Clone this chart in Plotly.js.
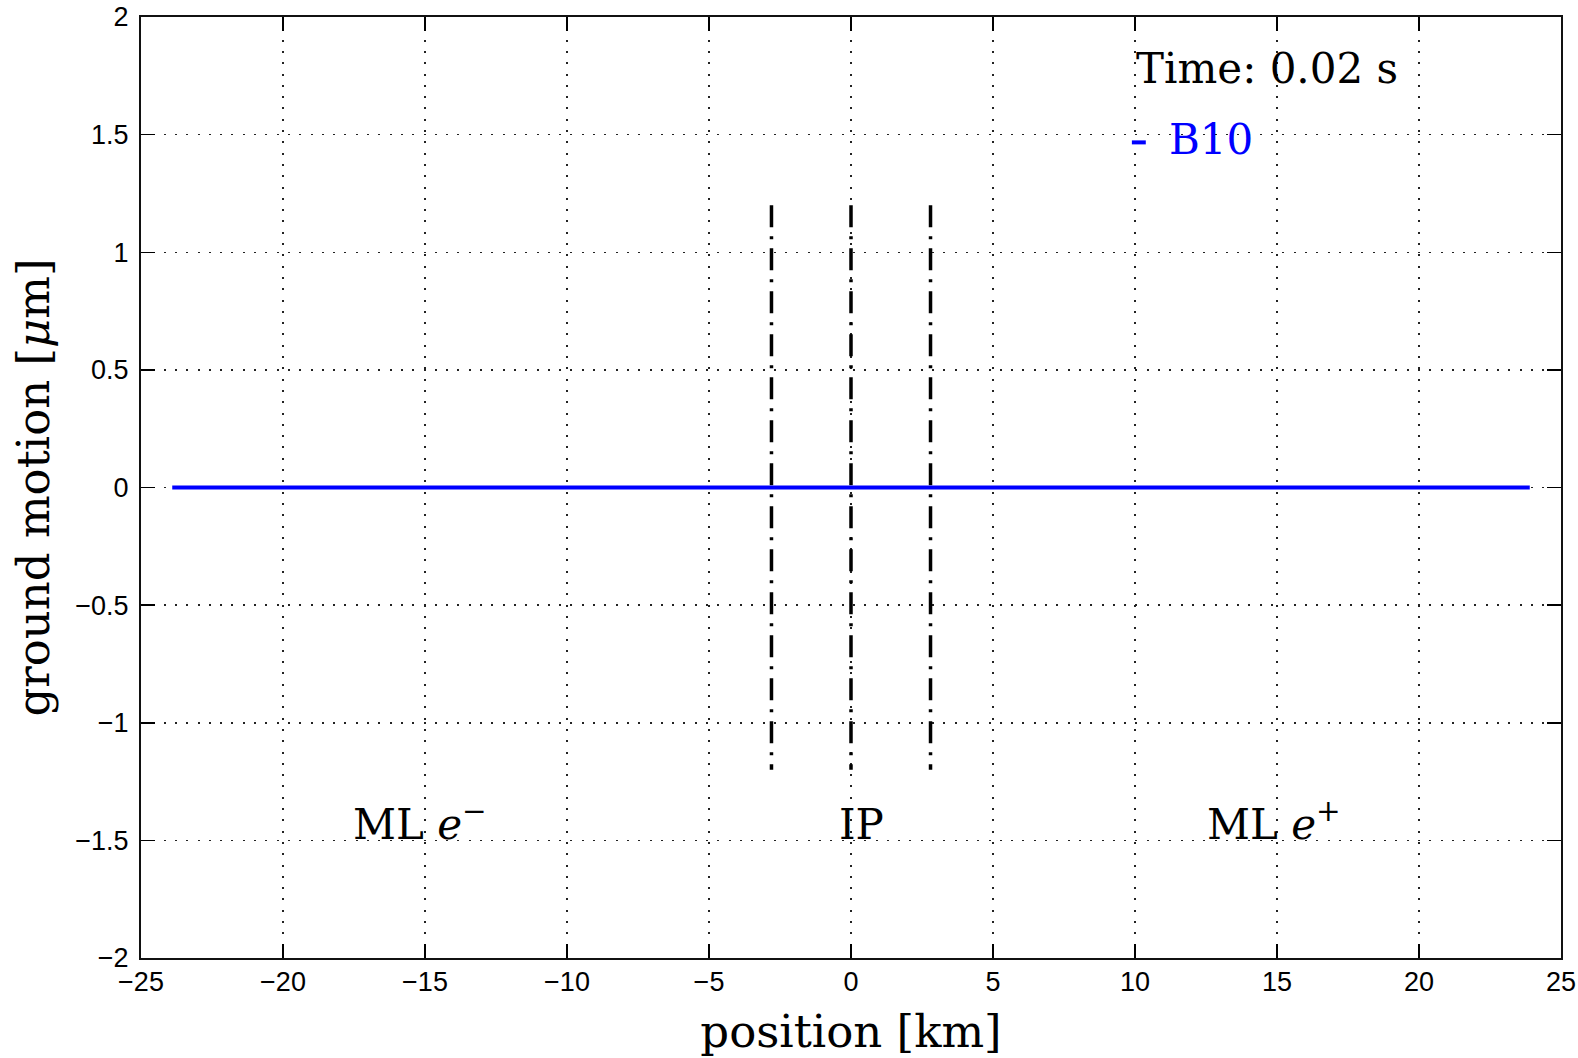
<!DOCTYPE html>
<html>
<head>
<meta charset="utf-8">
<script src="https://cdn.plot.ly/plotly-3.0.1.min.js"></script>
<style>html,body{margin:0;padding:0;background:#fff;}#chart{width:1578px;height:1058px;}</style>
</head>
<body>
<div id="chart"></div>
<script>
// ---- data ----
var positionKm = [-23.9, 23.9];          // B10 ground motion trace x (km)
var groundMotion = [0, 0];               // B10 ground motion (µm) at t = 0.02 s
var seriesName = "B10";
var markerX = [-2.8, 0, 2.8];            // vertical dash-dot markers (km)
var markerY = [-1.2, 1.2];               // extent of markers (µm)
var xTicks = [-25, -20, -15, -10, -5, 0, 5, 10, 15, 20, 25];
var yTicks = [-2, -1.5, -1, -0.5, 0, 0.5, 1, 1.5, 2];
var regionLabels = ["ML <i>e</i><sup>\u2212</sup>", "IP", "ML <i>e</i><sup>+</sup>"];
var regionLabelX = [-17.6, -0.5, 12.45];
var regionLabelY = -1.545;
var timeText = "Time: 0.02 s";

var serif = "DejaVu Serif, Liberation Serif, serif";
var tickFont = {family: "Liberation Sans Narrow, Liberation Sans, Arial, sans-serif", size: 27, color: "#000"};

var traces = [];
markerX.forEach(function (mx) {
  traces.push({
    x: [mx, mx], y: [markerY[1], markerY[0]],
    mode: "lines", type: "scatter", showlegend: false, hoverinfo: "skip",
    line: {color: "#000", width: 3.5, dash: "22px,9px,3px,9px"}
  });
});
traces.push({
  x: positionKm, y: groundMotion, name: seriesName,
  mode: "lines", type: "scatter", showlegend: false,
  line: {color: "#0000ff", width: 4}
});

var annotations = regionLabels.map(function (t, i) {
  return {text: t, x: regionLabelX[i], y: regionLabelY, xref: "x", yref: "y",
          xanchor: "left", yanchor: "bottom", showarrow: false,
          font: {family: serif, size: 42, color: "#000"}};
});
annotations.push({text: timeText, x: 9.95, y: 1.668, xref: "x", yref: "y",
  xanchor: "left", yanchor: "bottom", showarrow: false,
  font: {family: serif, size: 42, color: "#000"}});
annotations.push({text: seriesName, x: 11.12, y: 1.367, xref: "x", yref: "y",
  xanchor: "left", yanchor: "bottom", showarrow: false,
  font: {family: serif, size: 42, color: "#0000ff"}});

var layout = {
  width: 1578, height: 1058,
  margin: {l: 141, r: 17, t: 17, b: 100, pad: 0},
  paper_bgcolor: "#fff", plot_bgcolor: "#fff",
  showlegend: false,
  xaxis: {
    range: [-25, 25], tickvals: xTicks, ticktext: xTicks.map(function(v){return String(v).replace("-", "\u2212");}),
    ticks: "inside", ticklen: 14, tickwidth: 1.5, tickcolor: "#000",
    showline: true, linecolor: "#111", linewidth: 2, mirror: "ticks",
    showgrid: true, gridcolor: "#222", gridwidth: 1.5, griddash: "2px,9.3px",
    zeroline: false, tickfont: tickFont, ticklabelstandoff: -1,
    title: {text: "position [km]", font: {family: serif, size: 45, color: "#000"}, standoff: 19},
    automargin: false, fixedrange: true
  },
  yaxis: {
    range: [-2, 2], tickvals: yTicks, ticktext: yTicks.map(function(v){return String(v).replace("-", "\u2212");}),
    ticks: "inside", ticklen: 14, tickwidth: 1.5, tickcolor: "#000",
    showline: true, linecolor: "#111", linewidth: 2, mirror: "ticks",
    showgrid: true, gridcolor: "#222", gridwidth: 1.5, griddash: "2px,9.3px",
    zeroline: false, tickfont: tickFont, ticklabelstandoff: 5,
    title: {text: "ground motion [<i>\u03bc</i>m]", font: {family: serif, size: 45, color: "#000"}, standoff: 12},
    automargin: false, fixedrange: true
  },
  shapes: [{type: "line", xref: "x", yref: "y", x0: 9.89, x1: 10.38, y0: 1.467, y1: 1.467,
            line: {color: "#0000ff", width: 4}}],
  annotations: annotations
};

Plotly.newPlot("chart", traces, layout, {staticPlot: true, displayModeBar: false});
</script>
</body>
</html>
